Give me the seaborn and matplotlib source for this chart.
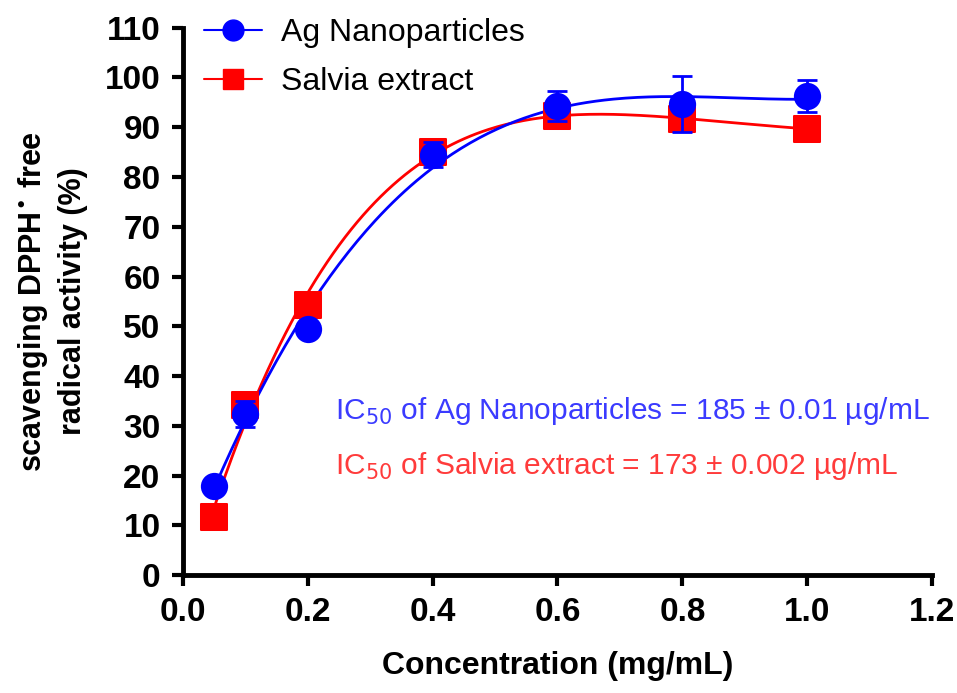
import matplotlib
matplotlib.use("Agg")
import matplotlib.pyplot as plt
from matplotlib.lines import Line2D
import numpy as np
import pandas as pd
import seaborn as sns

# concentrations (mg/mL)
conc = [0.05, 0.1, 0.2, 0.4, 0.6, 0.8, 1.0]
ag_mean = [17.9, 32.4, 49.5, 84.5, 94.2, 94.6, 96.2]
ag_err = [0.5, 2.6, 0.5, 2.5, 3.0, 5.6, 3.2]
salvia_mean = [11.7, 34.2, 54.3, 85.1, 92.2, 91.7, 89.7]
salvia_err = [0.3, 1.0, 0.8, 1.6, 1.0, 1.2, 0.5]

xticks = [0.0, 0.2, 0.4, 0.6, 0.8, 1.0, 1.2]
yticks = list(range(0, 111, 10))

sns.set_style("ticks", {"axes.edgecolor": "black", "xtick.color": "black",
                        "ytick.color": "black", "text.color": "black",
                        "axes.labelcolor": "black"})
plt.rcParams["font.family"] = ["Liberation Sans", "DejaVu Sans"]

fig = plt.figure(figsize=(9.57, 6.93), dpi=100)
ax = fig.add_axes([0.191, 0.170, 0.783, 0.790])

df = pd.DataFrame({"conc": conc, "ag": ag_mean, "salvia": salvia_mean})

# smooth fitted curves
xs = np.linspace(min(conc), max(conc), 200)
fit_ag = np.polyval(np.polyfit(conc, ag_mean, 3), xs)
fit_sa = np.polyval(np.polyfit(conc, salvia_mean, 4), xs)
curves = pd.DataFrame({"x": xs, "ag": fit_ag, "salvia": fit_sa})

sns.lineplot(data=curves, x="x", y="salvia", color="red", lw=2, ax=ax)
sns.lineplot(data=curves, x="x", y="ag", color="blue", lw=2, ax=ax)

ax.errorbar(conc, salvia_mean, yerr=salvia_err, fmt="none", ecolor="red",
            elinewidth=2, capsize=7, capthick=2, zorder=3)
sns.scatterplot(data=df, x="conc", y="salvia", marker="s", s=330, color="red",
                edgecolor="red", ax=ax, zorder=4)
ax.errorbar(conc, ag_mean, yerr=ag_err, fmt="none", ecolor="blue",
            elinewidth=2, capsize=7, capthick=2, zorder=5)
sns.scatterplot(data=df, x="conc", y="ag", marker="o", s=330, color="blue",
                edgecolor="blue", ax=ax, zorder=6)

ax.set_xlim(0, 1.2)
ax.set_ylim(0, 110)
ax.set_xticks(xticks)
ax.set_yticks(yticks)
ax.set_xticklabels([f"{t:.1f}" for t in xticks], fontsize=24, fontweight="bold")
ax.set_yticklabels([str(t) for t in yticks], fontsize=24, fontweight="bold")
ax.tick_params(width=3, length=8, direction="out", pad=8)
for s in ["left", "bottom"]:
    ax.spines[s].set_linewidth(3.5)
sns.despine(ax=ax)

ax.set_xlabel("Concentration (mg/mL)", fontsize=23, fontweight="bold", labelpad=16)
ax.set_ylabel("scavenging DPPH$^{\\bullet}$ free\nradical activity (%)",
              fontsize=22, fontweight="bold", labelpad=12, linespacing=1.35)

handles = [
    Line2D([], [], color="blue", marker="o", markersize=15, lw=1.5),
    Line2D([], [], color="red", marker="s", markersize=15, lw=1.5),
]
ax.legend(handles, ["Ag Nanoparticles", "Salvia extract"], loc="upper left",
          bbox_to_anchor=(-0.01, 1.07), frameon=False, fontsize=23,
          handlelength=1.8, handletextpad=0.6, labelspacing=0.6)

ax.text(0.244, 33, "IC$_{50}$ of Ag Nanoparticles = 185 ± 0.01 µg/mL",
        color="#3b3bff", fontsize=21.5, va="center")
ax.text(0.244, 22, "IC$_{50}$ of Salvia extract = 173 ± 0.002 µg/mL",
        color="#ff3b3b", fontsize=21.5, va="center")

fig.savefig("out.png", dpi=100)
